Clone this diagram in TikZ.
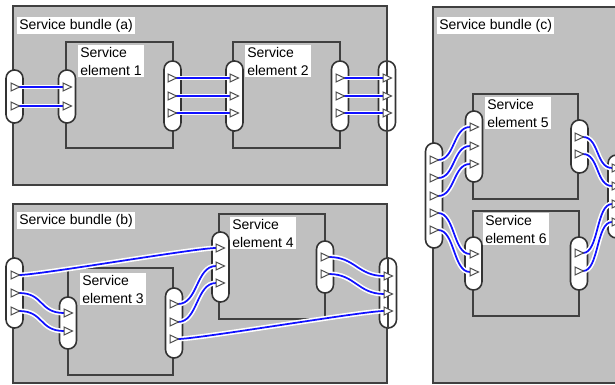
\documentclass[tikz,border=0pt]{standalone}
\usepackage{fontspec}
\setmainfont{Liberation Sans}
\usetikzlibrary{calc}
\definecolor{bundlefill}{HTML}{C0C0C0}
\definecolor{edgegrey}{HTML}{404040}
\definecolor{linkblue}{HTML}{1010FF}

\tikzset{
  bundle/.style={fill=bundlefill, draw=edgegrey, line width=1.5pt},
  element/.style={draw=edgegrey, line width=1.5pt},
  borderline/.style={draw=edgegrey, line width=1.5pt},
  caption/.style={anchor=north west, fill=white, inner xsep=1.5pt, inner ysep=1.2pt,
                  font=\fontsize{10.5}{13.5}\selectfont, align=left},
  port/.style={draw=black!80, fill=white, line width=1.2pt, rounded corners=6.3pt,
               minimum width=12.75pt, minimum height=#1*0.75pt, inner sep=0pt},
  tri/.style={draw=black!70, fill=white, line width=0.75pt, line join=miter},
  link/.style={draw=white, double=linkblue, double distance=1.3pt, line width=1.2pt},
}

% open triangle (port pin) centred on a named coordinate
\newcommand\pin[1]{\draw[tri] ($(#1)+(-4,-4)$) -- ($(#1)+(4.5,0)$) -- ($(#1)+(-4,4)$) -- cycle;}

\begin{document}
\begin{tikzpicture}[x=0.75pt,y=-0.75pt]
\path[use as bounding box, fill=white] (0,0) rectangle (615,385);
\clip (0,0) rectangle (615,385);

% ---------------- bundles ----------------
\draw[bundle] (13,6) rectangle (387,185);
\draw[bundle] (13,204) rectangle (387,383);
\draw[bundle] (433,7) rectangle (616,383);

% ---------------- elements ----------------
\draw[element] (66,42) rectangle (173,148);
\draw[element] (233,42) rectangle (340,148);
\draw[element] (68,268) rectangle (173,375);
\draw[element] (219,214) rectangle (325,319);
\draw[element] (473,94) rectangle (578,199);
\draw[element] (473,211) rectangle (579,316);

% ---------------- captions ----------------
\node[caption] (capA) at (17,17) {Service bundle (a)};
\node[caption] (capB) at (17,212) {Service bundle (b)};
\node[caption] (capC) at (437,17) {Service bundle (c)};
\node[caption] (cap1) at (78,45) {Service\\element 1};
\node[caption] (cap2) at (245,45) {Service\\element 2};
\node[caption] (cap3) at (80,273) {Service\\element 3};
\node[caption] (cap4) at (230,217) {Service\\element 4};
\node[caption] (cap5) at (485,97) {Service\\element 5};
\node[caption] (cap6) at (483,213) {Service\\element 6};

% ---------------- ports ----------------
\node[port=53] (aL)  at (14.5,96.5) {};
\node[port=53] (e1L) at (67,96.5) {};
\node[port=70] (e1R) at (172.5,96) {};
\node[port=70] (e2L) at (234.5,96) {};
\node[port=70] (e2R) at (340,96) {};
\node[port=70] (aR)  at (387,96) {};

\node[port=70] (bL)  at (14.5,293) {};
\node[port=52] (e3L) at (68,323) {};
\node[port=70] (e3R) at (174,323) {};
\node[port=70] (e4L) at (220.5,267) {};
\node[port=52] (e4R) at (325,267) {};
\node[port=70] (bR)  at (388,293) {};

\node[port=105] (cL)  at (434,195.5) {};
\node[port=71]  (e5L) at (474,146.5) {};
\node[port=53]  (e5R) at (579.5,146.5) {};
\node[port=53]  (e6L) at (473.5,263.5) {};
\node[port=53]  (e6R) at (579,263.5) {};
\node[port=83]  (cR)  at (616.5,196.5) {};

% bundle edge running through the outer right ports
\draw[borderline] (aR.north) -- (aR.south);
\draw[borderline] (bR.north) -- (bR.south);
\draw[borderline] (cR.north) -- (cR.south);

% ---------------- pin positions ----------------
\coordinate (aL1) at (15,87);   \coordinate (aL2) at (15,106);
\coordinate (e1L1) at (67,87);  \coordinate (e1L2) at (67,106);
\coordinate (e1R1) at (172,78); \coordinate (e1R2) at (172,96); \coordinate (e1R3) at (172,113);
\coordinate (e2L1) at (234,78); \coordinate (e2L2) at (234,96); \coordinate (e2L3) at (234,113);
\coordinate (e2R1) at (340,78); \coordinate (e2R2) at (340,96); \coordinate (e2R3) at (340,113);
\coordinate (aR1) at (387,78);  \coordinate (aR2) at (387,96);  \coordinate (aR3) at (387,113);

\coordinate (bL1) at (15,275);  \coordinate (bL2) at (15,293);  \coordinate (bL3) at (15,311);
\coordinate (e3L1) at (68,313); \coordinate (e3L2) at (68,331);
\coordinate (e3R1) at (174,304); \coordinate (e3R2) at (174,322); \coordinate (e3R3) at (174,339);
\coordinate (e4L1) at (220,248); \coordinate (e4L2) at (220,266); \coordinate (e4L3) at (220,283);
\coordinate (e4R1) at (325,257); \coordinate (e4R2) at (325,274);
\coordinate (bR1) at (388,276);  \coordinate (bR2) at (388,294);  \coordinate (bR3) at (388,311);

\coordinate (cL1) at (434,160); \coordinate (cL2) at (434,178); \coordinate (cL3) at (434,196);
\coordinate (cL4) at (434,213); \coordinate (cL5) at (434,230);
\coordinate (e5L1) at (474,127); \coordinate (e5L2) at (474,146); \coordinate (e5L3) at (474,164);
\coordinate (e5R1) at (579,137); \coordinate (e5R2) at (579,154);
\coordinate (e6L1) at (474,254); \coordinate (e6L2) at (474,272);
\coordinate (e6R1) at (579,253); \coordinate (e6R2) at (579,271);
\coordinate (cR1) at (616,168); \coordinate (cR2) at (616,186);
\coordinate (cR3) at (616,204); \coordinate (cR4) at (616,222);

% ---------------- connections: bundle (a) ----------------
\draw[link] ([xshift=3pt]aL1) -- ([xshift=-3pt]e1L1);
\draw[link] ([xshift=3pt]aL2) -- ([xshift=-3pt]e1L2);
\foreach \i in {1,2,3}{
  \draw[link] ([xshift=3pt]e1R\i) -- ([xshift=-3pt]e2L\i);
  \draw[link] ([xshift=3pt]e2R\i) -- ([xshift=-3pt]aR\i);
}

% ---------------- connections: bundle (b) ----------------
\draw[link] ([xshift=3pt]bL1) .. controls +(20,0) and +(-20,0) .. ([xshift=-3pt]e4L1);
\draw[link] ([xshift=3pt]bL2) .. controls +(25,0) and +(-25,0) .. ([xshift=-3pt]e3L1);
\draw[link] ([xshift=3pt]bL3) .. controls +(25,0) and +(-25,0) .. ([xshift=-3pt]e3L2);
\draw[link] ([xshift=3pt]e3R1) .. controls +(20,0) and +(-20,0) .. ([xshift=-3pt]e4L2);
\draw[link] ([xshift=3pt]e3R2) .. controls +(20,0) and +(-20,0) .. ([xshift=-3pt]e4L3);
\draw[link] ([xshift=3pt]e3R3) .. controls +(20,0) and +(-20,0) .. ([xshift=-3pt]bR3);
\draw[link] ([xshift=3pt]e4R1) .. controls +(26,0) and +(-26,0) .. ([xshift=-3pt]bR1);
\draw[link] ([xshift=3pt]e4R2) .. controls +(26,0) and +(-26,0) .. ([xshift=-3pt]bR2);

% ---------------- connections: bundle (c) ----------------
\draw[link] ([xshift=3pt]cL1) .. controls +(17,0) and +(-17,0) .. ([xshift=-3pt]e5L1);
\draw[link] ([xshift=3pt]cL2) .. controls +(17,0) and +(-17,0) .. ([xshift=-3pt]e5L2);
\draw[link] ([xshift=3pt]cL3) .. controls +(17,0) and +(-17,0) .. ([xshift=-3pt]e5L3);
\draw[link] ([xshift=3pt]cL4) .. controls +(17,0) and +(-17,0) .. ([xshift=-3pt]e6L1);
\draw[link] ([xshift=3pt]cL5) .. controls +(17,0) and +(-17,0) .. ([xshift=-3pt]e6L2);
\draw[link] ([xshift=3pt]e5R1) .. controls +(16,0) and +(-16,0) .. ([xshift=-3pt]cR1);
\draw[link] ([xshift=3pt]e5R2) .. controls +(16,0) and +(-16,0) .. ([xshift=-3pt]cR2);
\draw[link] ([xshift=3pt]e6R1) .. controls +(16,0) and +(-16,0) .. ([xshift=-3pt]cR3);
\draw[link] ([xshift=3pt]e6R2) .. controls +(16,0) and +(-16,0) .. ([xshift=-3pt]cR4);

% ---------------- pins ----------------
\foreach \p in {aL1,aL2,e1L1,e1L2,e1R1,e1R2,e1R3,e2L1,e2L2,e2L3,e2R1,e2R2,e2R3,aR1,aR2,aR3,
                bL1,bL2,bL3,e3L1,e3L2,e3R1,e3R2,e3R3,e4L1,e4L2,e4L3,e4R1,e4R2,bR1,bR2,bR3,
                cL1,cL2,cL3,cL4,cL5,e5L1,e5L2,e5L3,e5R1,e5R2,e6L1,e6L2,e6R1,e6R2,cR1,cR2,cR3,cR4}{
  \pin{\p}
}
\end{tikzpicture}
\end{document}
